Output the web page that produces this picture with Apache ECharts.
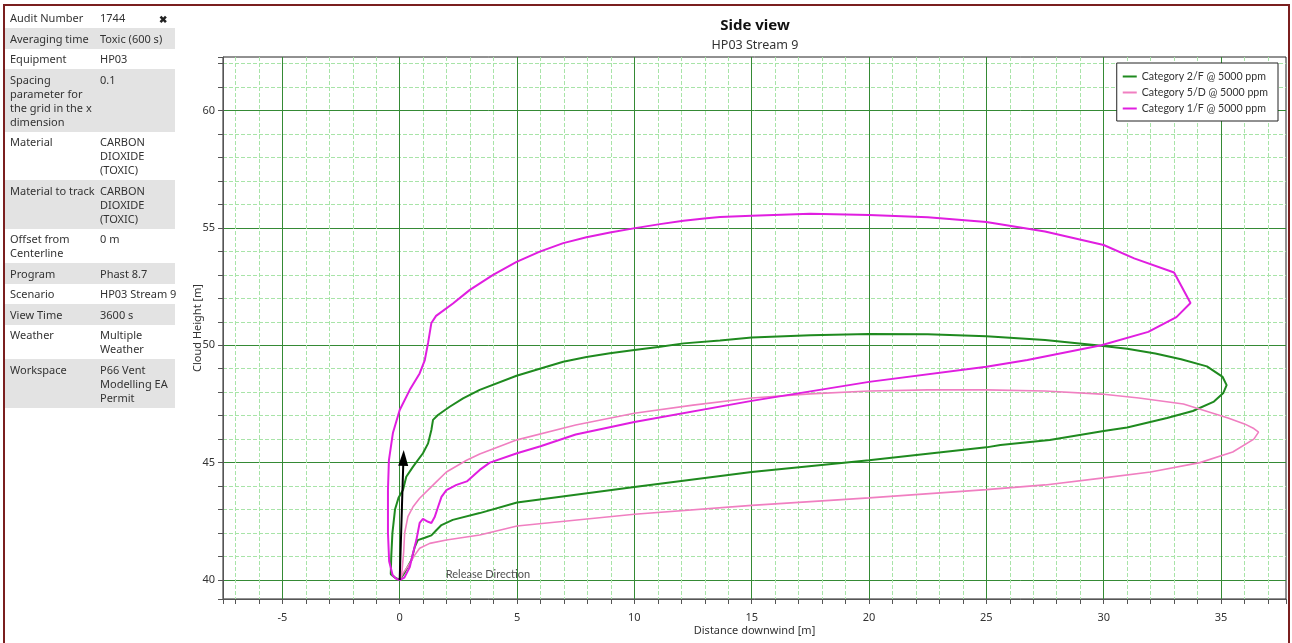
<!DOCTYPE html>
<html>
<head>
<meta charset="utf-8">
<title>Side view</title>
<script src="https://cdn.jsdelivr.net/npm/echarts@6/dist/echarts.min.js"></script>
<style>
  html, body { margin: 0; padding: 0; background: #fff; }
  #chart { position: absolute; left: 0; top: 0; width: 1292px; height: 643px; }
  #frame { position: absolute; left: 3px; top: 4px; width: 1283px; height: 660px;
           border: 2px solid #7a1f1f; pointer-events: none; }
  #info { position: absolute; left: 5px; top: 8px; width: 170px;
          font-family: "Noto Sans", "Open Sans", sans-serif; font-size: 11px; color: #333; }
  #info .row { display: flex; padding: 3.3px 0 3.2px 0; line-height: 14px; }
  #info .row.alt { background: #e3e3e3; }
  #info .k { width: 90px; padding-left: 5px; flex: none; }
  #info .v { flex: 1; margin-right: -8px; }
  #info .x { position: absolute; right: 8px; top: 4px; font-size: 10px; font-weight: bold; color: #222; }
</style>
</head>
<body>
<div id="chart"></div>
<div id="info"></div>
<div id="frame"></div>
<script>
// audit details shown in the side table
const infoRows = [
  ['Audit Number', '1744'],
  ['Averaging time', 'Toxic (600 s)'],
  ['Equipment', 'HP03'],
  ['Spacing parameter for the grid in the x dimension', '0.1'],
  ['Material', 'CARBON DIOXIDE (TOXIC)'],
  ['Material to track', 'CARBON DIOXIDE (TOXIC)'],
  ['Offset from Centerline', '0 m'],
  ['Program', 'Phast 8.7'],
  ['Scenario', 'HP03 Stream 9'],
  ['View Time', '3600 s'],
  ['Weather', 'Multiple Weather'],
  ['Workspace', 'P66 Vent Modelling EA Permit']
]

const seriesNames = ['Category 2/F @ 5000 ppm', 'Category 5/D @ 5000 ppm', 'Category 1/F @ 5000 ppm']

// cloud outlines [distance downwind, cloud height]
const cat2F = [
  [0, 40], [-0.2, 40.1], [-0.38, 40.25], [-0.36, 41.0], [-0.31, 42.0], [-0.2, 43.0], [-0.05, 43.5],
  [0.14, 43.83], [0.28, 44.4], [0.57, 44.83], [0.99, 45.4], [1.21, 45.82], [1.35, 46.39], [1.42, 46.82],
  [1.63, 47.03], [2.13, 47.38], [2.7, 47.74], [3.41, 48.1], [4.98, 48.7], [5.97, 49.0], [6.97, 49.3],
  [7.96, 49.5], [8.96, 49.66], [10, 49.8], [11.1, 49.94], [12.1, 50.08], [13.65, 50.2], [15, 50.33],
  [17.5, 50.43], [20, 50.48], [22.5, 50.47], [25, 50.38], [27.5, 50.22], [29.7, 50.0], [31, 49.85],
  [32.2, 49.65], [33.3, 49.4], [34.4, 49.1], [35.07, 48.65], [35.24, 48.3], [35.1, 47.97], [34.7, 47.6],
  [33.8, 47.2], [32.7, 46.9], [31, 46.5], [30, 46.35], [27.7, 45.96], [25.6, 45.75], [25, 45.65],
  [20, 45.1], [15, 44.6], [10, 43.96], [5, 43.3], [3.41, 42.85], [2.26, 42.56], [1.78, 42.34],
  [1.57, 42.13], [1.35, 41.9], [1.07, 41.8], [0.77, 41.7], [0.64, 41.4], [0.5, 40.85], [0.36, 40.6],
  [0.2, 40.3], [0, 40]
]
const cat5D = [
  [0, 40], [0.1, 40.4], [0.17, 41.2], [0.21, 41.99], [0.35, 42.7], [0.57, 43.12], [0.85, 43.48],
  [1.28, 43.9], [1.57, 44.19], [1.99, 44.6], [2.85, 45.1], [3.41, 45.37], [5, 45.97], [7.5, 46.6],
  [10, 47.1], [12.5, 47.45], [15, 47.75], [17.5, 47.93], [20, 48.05], [22.5, 48.1], [25, 48.1],
  [27.5, 48.05], [29.9, 47.92], [31.5, 47.75], [33.4, 47.5], [35.3, 46.9], [36.0, 46.65], [36.4, 46.45],
  [36.6, 46.3], [36.4, 46.0], [35.5, 45.45], [34.1, 45.0], [32, 44.6], [30, 44.35], [27.5, 44.05],
  [25, 43.85], [20, 43.5], [15, 43.18], [10, 42.8], [5, 42.3], [3.41, 41.92], [1.99, 41.7],
  [1.28, 41.56], [0.85, 41.35], [0.64, 41.06], [0.43, 40.7], [0.14, 40.28], [0, 40]
]
const cat1F = [
  [0, 40], [-0.15, 40.05], [-0.3, 40.2], [-0.45, 40.8], [-0.5, 42.0], [-0.5, 43.83], [-0.46, 45.1],
  [-0.29, 46.26], [0, 47.24], [0.43, 48.1], [0.85, 48.8], [1.07, 49.37], [1.21, 50.1], [1.35, 50.95],
  [1.55, 51.25], [2.27, 51.78], [2.99, 52.36], [3.98, 53.0], [4.98, 53.55], [5.97, 53.99], [6.97, 54.35],
  [7.96, 54.6], [8.96, 54.8], [10.03, 54.99], [11.09, 55.16], [12.09, 55.3], [13.08, 55.41], [13.65, 55.46],
  [15, 55.52], [17.5, 55.6], [20, 55.55], [22.5, 55.45], [25, 55.25], [27.5, 54.85], [30, 54.27],
  [31.3, 53.7], [33, 53.1], [33.7, 51.8], [33.1, 51.2], [31.9, 50.57], [29.9, 50.0], [26.75, 49.37],
  [25, 49.08], [20, 48.44], [15, 47.63], [10, 46.73], [7.5, 46.2], [6, 45.7], [5, 45.4], [3.84, 45.0],
  [3.41, 44.69], [2.86, 44.2], [2.42, 44.05], [1.99, 43.83], [1.78, 43.54], [1.63, 43.1], [1.49, 42.68],
  [1.35, 42.43], [1.21, 42.48], [0.99, 42.6], [0.85, 42.43], [0.71, 41.7], [0.57, 41.15], [0.43, 40.55],
  [0.2, 40.1], [0, 40]
]

// release direction arrow (start, end) and its caption anchor
const releaseArrow = [[0, 40], [0.16, 45.2]]
const releaseLabel = [[1.96, 40.25]]

const xRange = [-7.53, 37.77]
const yRange = [39.19, 62.28]

// side table
const info = document.getElementById('info')
infoRows.forEach((r, i) => {
  const row = document.createElement('div')
  row.className = 'row' + (i % 2 === 1 ? ' alt' : '')
  row.innerHTML = '<div class="k">' + r[0] + '</div><div class="v">' + r[1] + '</div>'
  info.appendChild(row)
})
const closeBtn = document.createElement('div')
closeBtn.className = 'x'
closeBtn.textContent = '✖'
info.appendChild(closeBtn)

const chartDom = document.getElementById('chart')
const myChart = echarts.init(chartDom)

function valueAxis(range, name, gap, labelMargin) {
  return {
    type: 'value',
    min: range[0],
    max: range[1],
    splitNumber: 8,
    minInterval: 5,
    maxInterval: 5,
    name: name,
    nameLocation: 'middle',
    nameGap: gap,
    nameMoveOverlap: false,
    nameTextStyle: { color: '#333', fontSize: 11, fontFamily: 'Noto Sans' },
    axisLine: { show: true, onZero: false, lineStyle: { color: '#555', width: 1 } },
    axisTick: { show: true, length: 5, lineStyle: { color: '#555' } },
    minorTick: { show: true, splitNumber: 5, length: 5, lineStyle: { color: '#555' } },
    splitLine: { show: true, showMinLine: false, showMaxLine: false, lineStyle: { color: '#358a35', width: 1 } },
    minorSplitLine: { show: true, lineStyle: { color: '#a8e4a8', width: 1, type: [4, 2] } },
    axisLabel: { color: '#333', fontSize: 11, fontFamily: 'Noto Sans', margin: labelMargin, showMinLabel: false, showMaxLabel: false }
  }
}

const colors = ['#1f8a1f', '#f07fc1', '#e01ee0']
const lineData = [cat2F, cat5D, cat1F]
const widths = [2, 1.6, 2]

const option = {
  animation: false,
  title: {
    text: 'Side view',
    subtext: 'HP03 Stream 9',
    left: 750,
    top: 13,
    textAlign: 'center',
    itemGap: 6,
    textStyle: { fontSize: 15, fontWeight: 'bold', color: '#111', fontFamily: 'Noto Sans' },
    subtextStyle: { fontSize: 12.5, color: '#333', fontFamily: 'Noto Sans' }
  },
  grid: {
    left: 223,
    right: 6,
    top: 57,
    bottom: 44,
    show: true,
    backgroundColor: '#fff',
    borderColor: '#222',
    borderWidth: 1
  },
  legend: {
    orient: 'vertical',
    right: 14,
    top: 63,
    data: seriesNames,
    backgroundColor: '#fff',
    borderColor: '#222',
    borderWidth: 1,
    borderRadius: 0,
    padding: [8, 10, 7, 6],
    icon: 'rect',
    itemWidth: 14,
    itemHeight: 2,
    itemGap: 5,
    textStyle: { color: '#333', fontSize: 10.6, fontFamily: 'Lato' }
  },
  xAxis: valueAxis(xRange, 'Distance downwind [m]', 26, 13),
  yAxis: valueAxis(yRange, 'Cloud Height [m]', 20, 8),
  series: seriesNames.map((name, i) => ({
    name: name,
    type: 'line',
    data: lineData[i],
    symbol: 'none',
    showSymbol: false,
    color: colors[i],
    lineStyle: { color: colors[i], width: widths[i] }
  })).concat([{
    name: 'Release Direction',
    type: 'scatter',
    data: releaseLabel,
    symbolSize: 0,
    silent: true,
    label: {
      show: true,
      position: 'right',
      distance: 0,
      formatter: 'Release Direction',
      color: '#222',
      fontSize: 11,
      fontFamily: 'Lato'
    },
    markLine: {
      silent: true,
      symbol: ['none', 'triangle'],
      symbolSize: [10, 16],
      label: { show: false },
      lineStyle: { color: '#000', width: 2, type: 'solid' },
      data: [[{ coord: releaseArrow[0] }, { coord: releaseArrow[1] }]]
    }
  }])
}

myChart && myChart.setOption(option)
</script>
</body>
</html>
